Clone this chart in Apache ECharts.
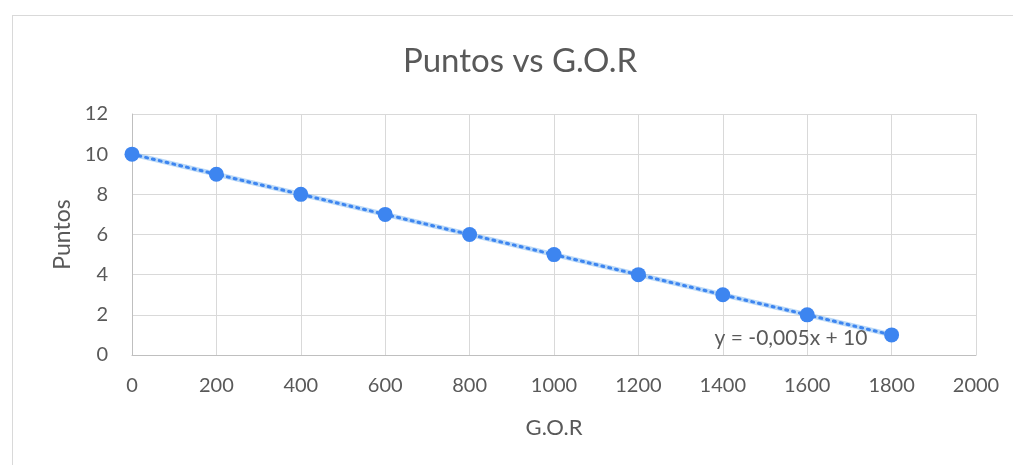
<!DOCTYPE html>
<html>
<head>
<meta charset="utf-8">
<script src="https://cdn.jsdelivr.net/npm/echarts@6/dist/echarts.min.js"></script>
<style>
	html, body { margin: 0; padding: 0; background: #fff; }
	#frame { position: absolute; left: 12px; top: 15px; width: 1010px; height: 460px; border-left: 1px solid #d9d9d9; border-top: 1px solid #d9d9d9; }
	#chart { position: absolute; left: 0; top: 0; width: 1013px; height: 465px; }
</style>
</head>
<body>
<div id="frame"></div>
<div id="chart"></div>
<script>
var gor = [0, 200, 400, 600, 800, 1000, 1200, 1400, 1600, 1800];
var puntos = [10, 9, 8, 7, 6, 5, 4, 3, 2, 1];
var xTicks = [0, 200, 400, 600, 800, 1000, 1200, 1400, 1600, 1800, 2000];
var yTicks = [0, 2, 4, 6, 8, 10, 12];

// linear trendline (least squares)
var n = gor.length, sx = 0, sy = 0, sxy = 0, sxx = 0;
for (var i = 0; i < n; i++) {
	sx += gor[i]; sy += puntos[i];
	sxy += gor[i] * puntos[i]; sxx += gor[i] * gor[i];
}
var slope = (n * sxy - sx * sy) / (n * sxx - sx * sx);
var intercept = (sy - slope * sx) / n;
var xMin = Math.min.apply(null, gor), xMax = Math.max.apply(null, gor);
var trend = [[xMin, slope * xMin + intercept], [xMax, slope * xMax + intercept]];
var eqText = 'y = ' + slope.toFixed(3).replace('.', ',') + 'x + ' + Math.round(intercept);

var font = 'Lato, "Open Sans", sans-serif';
var myChart = echarts.init(document.getElementById('chart'));
var option = {
	animation: false,
	title: {
		text: 'Puntos vs G.O.R',
		left: 398,
		top: 40,
		textStyle: { fontFamily: font, fontSize: 33, fontWeight: 'normal', color: '#595959' }
	},
	grid: { left: 132, right: 37, top: 114, bottom: 110 },
	xAxis: {
		type: 'value',
		min: xTicks[0],
		max: xTicks[xTicks.length - 1],
		interval: 200,
		name: 'G.O.R',
		nameLocation: 'middle',
		nameGap: 62,
		nameTextStyle: { fontFamily: font, fontSize: 22, color: '#595959' },
		axisLine: { show: true, lineStyle: { color: '#bfbfbf', width: 1 } },
		axisTick: { show: false },
		axisLabel: { fontFamily: font, fontSize: 20, color: '#595959', margin: 21, formatter: function(v) { return String(v); } },
		splitLine: { show: true, lineStyle: { color: '#d9d9d9', width: 1 } }
	},
	yAxis: {
		type: 'value',
		min: yTicks[0],
		max: yTicks[yTicks.length - 1],
		interval: 2,
		name: 'Puntos',
		nameLocation: 'middle',
		nameGap: 58,
		nameRotate: 90,
		nameTextStyle: { fontFamily: font, fontSize: 23, color: '#595959' },
		axisLine: { show: true, onZero: false, lineStyle: { color: '#bfbfbf', width: 1 } },
		axisTick: { show: false },
		axisLabel: { fontFamily: font, fontSize: 20, color: '#595959', margin: 24 },
		splitLine: { show: true, lineStyle: { color: '#d9d9d9', width: 1 } }
	},
	graphic: [{
		type: 'text',
		x: 791,
		y: 338,
		z: 10,
		style: {
			text: eqText,
			font: '21px ' + font,
			fill: '#595959',
			align: 'center',
			verticalAlign: 'middle'
		}
	}],
	series: [{
		type: 'line',
		data: trend,
		symbol: 'none',
		silent: true,
		lineStyle: { color: 'rgba(120,180,240,0.5)', width: 5 },
		z: 2
	}, {
		type: 'line',
		data: trend,
		symbol: 'none',
		silent: true,
		lineStyle: { color: '#3d85f0', width: 3, type: [2, 5], cap: 'round' },
		z: 3
	}, {
		type: 'scatter',
		data: gor.map(function(x, i) { return [x, puntos[i]]; }),
		symbol: 'circle',
		symbolSize: 15,
		itemStyle: { color: '#3d85f0', opacity: 1 },
		z: 4
	}]
};
myChart.setOption(option);
</script>
</body>
</html>
